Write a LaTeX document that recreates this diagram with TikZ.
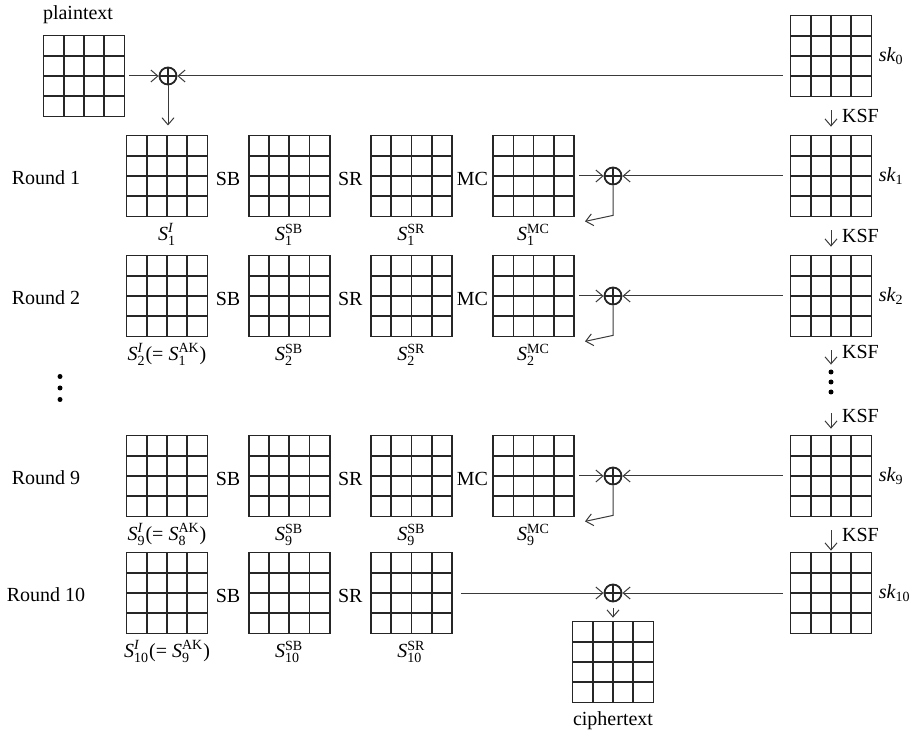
\documentclass[tikz,border=0pt]{standalone}
\usepackage{amsmath}
\usepackage{fontspec}
\setmainfont{Liberation Serif}
\usepackage{xcolor}
\usepackage{tikz}
\usetikzlibrary{
  arrows.meta,
  positioning,
  calc
}
\definecolor{GridDark}{HTML}{262626}
\definecolor{LineGray}{HTML}{3A3A3A}
\newcommand{\stt}[2]{\textit{S}$_{\text{#1}}^{\text{#2}}$}
\newcommand{\skey}[1]{\textit{sk}$_{\text{#1}}$}
\tikzset{
  block/.style={
    draw=GridDark,
    line width=0.85pt,
    minimum size=40.5pt,
    inner sep=0pt,
    path picture={
      \foreach \k in {0.25,0.5,0.75} {
        \draw[GridDark, line width=0.85pt]
        ($(path picture bounding box.south west)!\k!(path picture bounding box.south east)$) --
        ($(path picture bounding box.north west)!\k!(path picture bounding box.north east)$);
        \draw[GridDark, line width=0.85pt]
        ($(path picture bounding box.south west)!\k!(path picture bounding box.north west)$) --
        ($(path picture bounding box.south east)!\k!(path picture bounding box.north east)$);
      }
    }
  },
  xor/.style={
    circle,
    draw=GridDark,
    line width=0.9pt,
    minimum size=8.5pt,
    inner sep=0pt,
    path picture={
      \draw[GridDark, line width=0.9pt]
      (path picture bounding box.north) -- (path picture bounding box.south)
      (path picture bounding box.west) -- (path picture bounding box.east);
    }
  },
  flow/.style={
    -{Straight Barb[length=3.5pt,width=6pt]},
    draw=LineGray,
    line width=0.5pt
  },
  ksf/.style={
    flow,
    shorten <=6.5pt,
    shorten >=4pt
  },
  ksflabel/.style={
    right,
    xshift=2pt
  },
  op/.style={
    inner sep=0pt,
    yshift=-1.5pt
  },
  caption/.style={
    inner sep=1pt
  },
  roundlabel/.style={
    inner sep=0pt,
    yshift=-1pt
  },
  keylabel/.style={
    inner sep=0pt
  },
  dotholder/.style={
    inner sep=0pt,
    minimum width=6pt,
    minimum height=15pt
  }
}

\begin{document}
\begin{tikzpicture}[
  x=0.5pt,
  y=-0.5pt,
  node distance=19.75pt
]

  \useasboundingbox (0,0) rectangle (916,737);

  \node[block] (plain) at (84,76) {};
  \node[caption, above=4pt of plain, xshift=-3pt] (plainLabel) {plaintext};
  \node[xor] (xor0) at (168,76) {};
  \node[block] (key0) at (831,56) {};
  \node[keylabel, right=3pt of key0] (key0Label) {\skey{0}};

  \draw[flow, shorten <=2pt] (plain) -- (xor0);
  \draw[flow, shorten <=3.5pt] (key0.west |- xor0) -- (xor0);
  \draw[flow, shorten >=5pt] (xor0) -- (xor0 |- 0,135.5);

  \node[roundlabel] (round1) at (46,176) {Round 1};
  \node[block] (s1in) at (167,176) {};
  \node[block, right=of s1in] (s1sb) {};
  \node[block, right=of s1sb] (s1sr) {};
  \node[block, right=of s1sr] (s1mc) {};
  \node[op] (op1sb) at ($(s1in.east)!0.5!(s1sb.west)$) {SB};
  \node[op] (op1sr) at ($(s1sb.east)!0.5!(s1sr.west)$) {SR};
  \node[op] (op1mc) at ($(s1sr.east)!0.5!(s1mc.west)$) {MC};
  \node[caption, below=2pt of s1in] (cap1in) {\stt{1}{\textit{I}}};
  \node[caption, below=2pt of s1sb] (cap1sb) {\stt{1}{SB}};
  \node[caption, below=2pt of s1sr] (cap1sr) {\stt{1}{SR}};
  \node[caption, below=2pt of s1mc] (cap1mc) {\stt{1}{MC}};
  \node[xor] (xor1) at (613,176) {};
  \node[block] (key1) at (831,176) {};
  \node[keylabel, right=3pt of key1] (key1Label) {\skey{1}};

  \draw[ksf] (key0) -- node[ksflabel] {KSF} (key1);
  \draw[flow, shorten <=2pt] (s1mc) -- (xor1);
  \draw[flow, shorten <=3.5pt] (key1) -- (xor1);
  \draw[flow] (xor1.south) -- ++(0,30) -- ++(-28,6);

  \node[roundlabel] (round2) at (46,296) {Round 2};
  \node[block] (s2in) at (167,296) {};
  \node[block, right=of s2in] (s2sb) {};
  \node[block, right=of s2sb] (s2sr) {};
  \node[block, right=of s2sr] (s2mc) {};
  \node[op] (op2sb) at ($(s2in.east)!0.5!(s2sb.west)$) {SB};
  \node[op] (op2sr) at ($(s2sb.east)!0.5!(s2sr.west)$) {SR};
  \node[op] (op2mc) at ($(s2sr.east)!0.5!(s2mc.west)$) {MC};
  \node[caption, below=2pt of s2in] (cap2in) {\stt{2}{\textit{I}}(= \stt{1}{AK})};
  \node[caption, below=2pt of s2sb] (cap2sb) {\stt{2}{SB}};
  \node[caption, below=2pt of s2sr] (cap2sr) {\stt{2}{SR}};
  \node[caption, below=2pt of s2mc] (cap2mc) {\stt{2}{MC}};
  \node[xor] (xor2) at (613,296) {};
  \node[block] (key2) at (831,296) {};
  \node[keylabel, right=3pt of key2] (key2Label) {\skey{2}};

  \draw[ksf] (key1) -- node[ksflabel] {KSF} (key2);
  \draw[flow, shorten <=2pt] (s2mc) -- (xor2);
  \draw[flow, shorten <=3.5pt] (key2) -- (xor2);
  \draw[flow] (xor2.south) -- ++(0,30) -- ++(-28,6);

  \node[dotholder] (roundDots) at (60,388) {};
  \foreach \d in {-11.5,0,11.5} {
    \fill[shift={(roundDots)}] (0,\d) circle (2.5);
  }
  \node[dotholder] (keyDots) at (831,382) {};
  \foreach \d in {-10,0,10} {
    \fill[shift={(keyDots)}] (0,\d) circle (2.5);
  }

  \node[roundlabel] (round9) at (46,476) {Round 9};
  \node[block] (s9in) at (167,476) {};
  \node[block, right=of s9in] (s9sb) {};
  \node[block, right=of s9sb] (s9sr) {};
  \node[block, right=of s9sr] (s9mc) {};
  \node[op] (op9sb) at ($(s9in.east)!0.5!(s9sb.west)$) {SB};
  \node[op] (op9sr) at ($(s9sb.east)!0.5!(s9sr.west)$) {SR};
  \node[op] (op9mc) at ($(s9sr.east)!0.5!(s9mc.west)$) {MC};
  \node[caption, below=2pt of s9in] (cap9in) {\stt{9}{\textit{I}}(= \stt{8}{AK})};
  \node[caption, below=2pt of s9sb] (cap9sb) {\stt{9}{SB}};
  \node[caption, below=2pt of s9sr] (cap9sr) {\stt{9}{SB}};
  \node[caption, below=2pt of s9mc] (cap9mc) {\stt{9}{MC}};
  \node[xor] (xor9) at (613,476) {};
  \node[block] (key9) at (831,476) {};
  \node[keylabel, right=3pt of key9] (key9Label) {\skey{9}};

  \draw[ksf, shorten >=1pt] (key2) -- node[ksflabel] {KSF} (keyDots);
  \draw[ksf, shorten <=8pt, shorten >=3pt] (keyDots) -- node[ksflabel] {KSF} (key9);
  \draw[flow, shorten <=2pt] (s9mc) -- (xor9);
  \draw[flow, shorten <=3.5pt] (key9) -- (xor9);
  \draw[flow] (xor9.south) -- ++(0,30) -- ++(-28,6);

  \node[roundlabel] (round10) at (46,593) {Round 10};
  \node[block] (s10in) at (167,593) {};
  \node[block, right=of s10in] (s10sb) {};
  \node[block, right=of s10sb] (s10sr) {};
  \node[op] (op10sb) at ($(s10in.east)!0.5!(s10sb.west)$) {SB};
  \node[op] (op10sr) at ($(s10sb.east)!0.5!(s10sr.west)$) {SR};
  \node[caption, below=2pt of s10in] (cap10in) {\stt{10}{\textit{I}}(= \stt{9}{AK})};
  \node[caption, below=2pt of s10sb] (cap10sb) {\stt{10}{SB}};
  \node[caption, below=2pt of s10sr] (cap10sr) {\stt{10}{SR}};
  \node[xor] (xor10) at (613,593) {};
  \node[block] (key10) at (831,593) {};
  \node[keylabel, right=3pt of key10] (key10Label) {\skey{10}};
  \node[block] (cipher) at (613,662) {};
  \node[caption, below=3pt of cipher] (cipherLabel) {ciphertext};

  \draw[ksf, shorten >=0.5pt] (key9) -- node[ksflabel] {KSF} (key10);
  \draw[flow, shorten <=4pt] (s10sr) -- (xor10);
  \draw[flow, shorten <=3.5pt] (key10) -- (xor10);
  \draw[flow, shorten <=3pt, shorten >=1.5pt] (xor10) -- (cipher);

\end{tikzpicture}
\end{document}
